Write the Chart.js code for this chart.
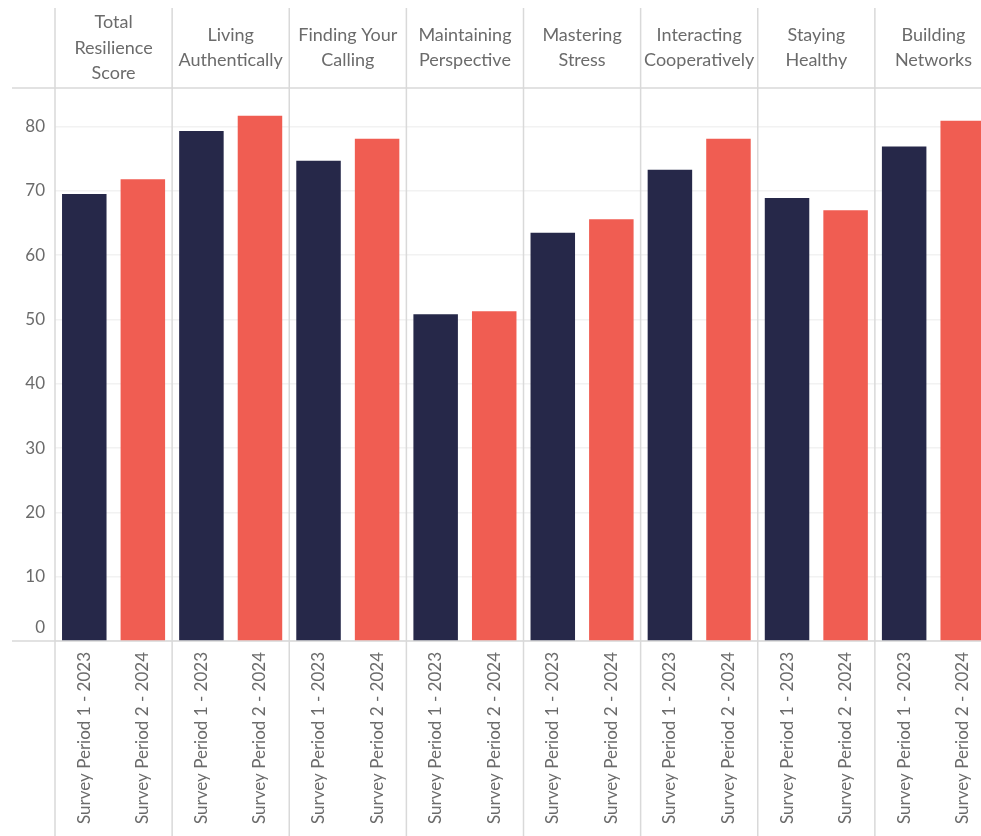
<!DOCTYPE html>
<html>
<head>
<meta charset="utf-8">
<script src="https://cdn.jsdelivr.net/npm/chart.js@4.4.1/dist/chart.umd.min.js"></script>
<style>
  html, body { margin: 0; padding: 0; background: #fff; overflow: hidden; }
  #wrap { width: 992px; height: 836px; }
</style>
</head>
<body>
<div id="wrap"><canvas id="myChart"></canvas></div>
<script>
// resilience categories (header row) and the two survey periods
var groups = [
  ['Total', 'Resilience', 'Score'],
  ['Living', 'Authentically'],
  ['Finding Your', 'Calling'],
  ['Maintaining', 'Perspective'],
  ['Mastering', 'Stress'],
  ['Interacting', 'Cooperatively'],
  ['Staying', 'Healthy'],
  ['Building', 'Networks']
];
var periods = ['Survey Period 1 - 2023', 'Survey Period 2 - 2024'];

var period1 = [69.5, 79.3, 74.7, 50.8, 63.5, 73.3, 68.9, 76.9];
var period2 = [71.8, 81.7, 78.1, 51.3, 65.6, 78.1, 67.0, 80.9];

var yTicks = [0, 10, 20, 30, 40, 50, 60, 70, 80];

// every bar gets its own rotated label underneath
var bottomLabels = [];
groups.forEach(function(){
  bottomLabels.push(periods[0]);
  bottomLabels.push(periods[1]);
});

var textColor = '#6b6b6b';
var lineColor = '#d9d9d9';
var fontFamily = 'Lato, "Open Sans", sans-serif';

// group separators, the top / base rules and the zero label kept above the base
var frame = {
  id: 'frame',
  beforeDatasetsDraw: function(chart){
    var ctx = chart.ctx;
    var x = chart.scales.x;
    var y = chart.scales.y;
    var area = chart.chartArea;
    var step = x.getPixelForValue(1) - x.getPixelForValue(0);
    var base = y.getPixelForValue(0);
    ctx.save();
    ctx.strokeStyle = lineColor;
    ctx.lineWidth = 1.5;
    for (var i = 0; i <= groups.length; i++){
      var px = x.getPixelForValue(i) - step / 2;
      ctx.beginPath();
      ctx.moveTo(px, 8);
      ctx.lineTo(px, chart.height);
      ctx.stroke();
    }
    ctx.beginPath();
    ctx.moveTo(12, area.top);
    ctx.lineTo(chart.width, area.top);
    ctx.stroke();
    ctx.beginPath();
    ctx.moveTo(12, base);
    ctx.lineTo(chart.width, base);
    ctx.stroke();

    ctx.fillStyle = textColor;
    ctx.font = '17px ' + fontFamily;
    ctx.textAlign = 'right';
    ctx.textBaseline = 'middle';
    ctx.fillText('0', area.left - 10, base - 13);
    ctx.restore();
  }
};

Chart.defaults.font.family = fontFamily;
Chart.defaults.color = textColor;

new Chart(document.getElementById('myChart'), {
  type: 'bar',
  data: {
    labels: groups,
    datasets: [
      {
        label: periods[0],
        data: period1,
        backgroundColor: '#262849',
        xAxisID: 'x',
        categoryPercentage: 1.0,
        barPercentage: 0.76
      },
      {
        label: periods[1],
        data: period2,
        backgroundColor: '#f05d52',
        xAxisID: 'x',
        categoryPercentage: 1.0,
        barPercentage: 0.76
      }
    ]
  },
  options: {
    responsive: true,
    maintainAspectRatio: false,
    animation: false,
    layout: { padding: 0 },
    plugins: {
      legend: { display: false },
      tooltip: { enabled: false }
    },
    scales: {
      x: {
        type: 'category',
        position: 'top',
        offset: true,
        grid: { display: false },
        border: { display: false },
        ticks: {
          font: { size: 18, lineHeight: 1.4 },
          color: textColor,
          maxRotation: 0,
          minRotation: 0,
          autoSkip: false,
          padding: 7,
          crossAlign: 'center'
        },
        afterFit: function(scale){ scale.height = 88; }
      },
      xb: {
        type: 'category',
        position: 'bottom',
        labels: bottomLabels,
        offset: true,
        grid: { display: false },
        border: { display: false },
        ticks: {
          font: { size: 17 },
          color: textColor,
          maxRotation: 90,
          minRotation: 90,
          autoSkip: false,
          padding: 3
        },
        afterFit: function(scale){ scale.height = 195; }
      },
      y: {
        min: 0,
        max: 86,
        afterBuildTicks: function(scale){
          scale.ticks = yTicks.map(function(v){ return { value: v }; });
        },
        grid: {
          color: '#f2f2f2',
          lineWidth: 1.5,
          drawTicks: false
        },
        border: { display: false },
        ticks: {
          font: { size: 17 },
          color: textColor,
          padding: 10,
          callback: function(value){ return value === 0 ? '' : value; }
        },
        afterFit: function(scale){ scale.width = 55; }
      }
    }
  },
  plugins: [frame]
});
</script>
</body>
</html>
